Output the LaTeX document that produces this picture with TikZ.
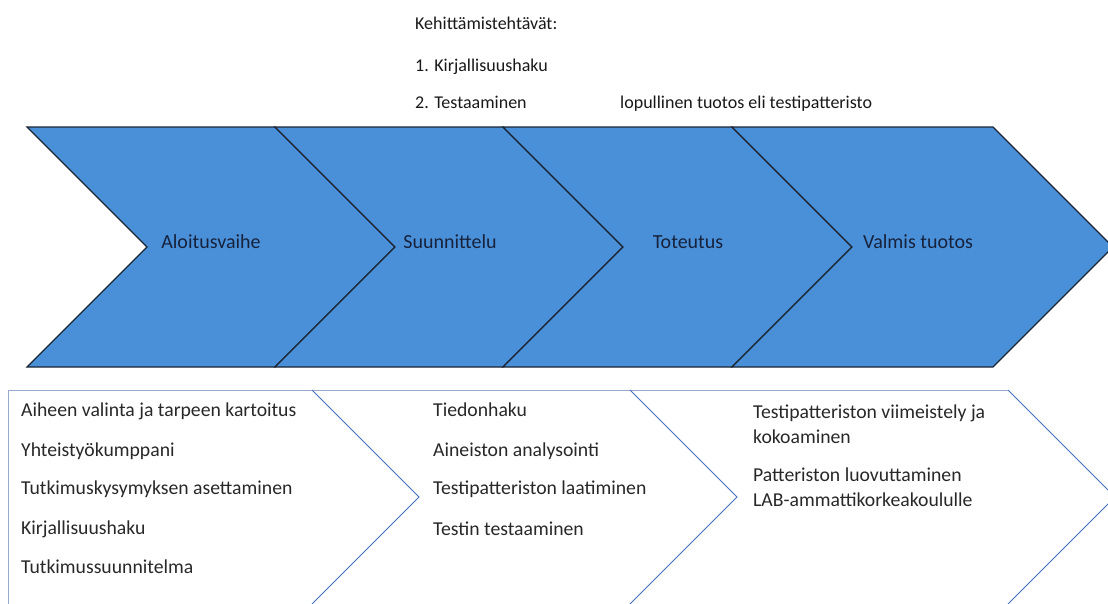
\documentclass[tikz,border=0pt]{standalone}
\usepackage{fontspec}
\setmainfont{Carlito}
\definecolor{chevblue}{RGB}{74,144,217}
\definecolor{chevedge}{RGB}{28,38,52}
\definecolor{labelnavy}{RGB}{22,34,60}
\definecolor{outlineblue}{RGB}{72,112,192}
\definecolor{outlinelight}{RGB}{150,170,205}
\definecolor{bodytext}{RGB}{40,40,40}
\definecolor{toptextcol}{RGB}{25,25,25}
\tikzset{
  chevron/.style={fill=chevblue, draw=chevedge, line width=1.2pt, line join=miter},
  outline/.style={draw=outlineblue, line width=1pt},
  outlinepale/.style={draw=outlinelight, line width=1pt},
  chevlabel/.style={anchor=base, inner sep=0pt, text=labelnavy, font=\fontsize{20}{23}\selectfont},
  toptext/.style={anchor=base west, inner sep=0pt, text=toptextcol, font=\fontsize{18}{21}\selectfont},
  bottomtext/.style={anchor=base west, inner sep=0pt, text=bodytext, font=\fontsize{19.7}{24}\selectfont}
}
\begin{document}
\begin{tikzpicture}[x=1pt,y=-1pt]
\useasboundingbox (0,0) rectangle (1108,603);
\fill[white] (0,0) rectangle (1108,603);
\begin{scope}
\clip (0,0) rectangle (1108,603);
% top chevrons
\draw[chevron] (27,127) -- (275,127) -- (395,247) -- (275,367) -- (27,367) -- (147,247) -- cycle;
\draw[chevron] (275,127) -- (503,127) -- (623,247) -- (503,367) -- (275,367) -- (395,247) -- cycle;
\draw[chevron] (503,127) -- (732,127) -- (852,247) -- (732,367) -- (503,367) -- (623,247) -- cycle;
\draw[chevron] (732,127) -- (993,127) -- (1113,247) -- (993,367) -- (732,367) -- (852,247) -- cycle;
% bottom outline chevrons
\draw[outlinepale] (8,606) -- (8,390) -- (1008,390);
\draw[outline] (312,390) -- (419,497) -- (312,604);
\draw[outline] (630,390) -- (737,497) -- (630,604);
\draw[outline] (1008,390) -- (1115,497) -- (1008,604);
\end{scope}
% chevron labels
\node[chevlabel] (aloitus) at (211,248) {Aloitusvaihe};
\node[chevlabel] (suunn) at (450,248) {Suunnittelu};
\node[chevlabel] (toteutus) at (688,248) {Toteutus};
\node[chevlabel] (valmis) at (918,248) {Valmis tuotos};
% top texts
\node[toptext] (keh) at (415,29) {Kehittämistehtävät:};
\node[toptext] (k1) at (415,71) {1. Kirjallisuushaku};
\node[toptext] (k2) at (415,108) {2. Testaaminen};
\node[toptext] (lop) at (620,108) {lopullinen tuotos eli testipatteristo};
% left column
\node[bottomtext] (l1) at (21,416) {Aiheen valinta ja tarpeen kartoitus};
\node[bottomtext] (l2) at (21,456) {Yhteistyökumppani};
\node[bottomtext] (l3) at (21,494) {Tutkimuskysymyksen asettaminen};
\node[bottomtext] (l4) at (21,534) {Kirjallisuushaku};
\node[bottomtext] (l5) at (21,573) {Tutkimussuunnitelma};
% middle column
\node[bottomtext] (m1) at (433,416) {Tiedonhaku};
\node[bottomtext] (m2) at (433,456) {Aineiston analysointi};
\node[bottomtext] (m3) at (433,494) {Testipatteriston laatiminen};
\node[bottomtext] (m4) at (433,535) {Testin testaaminen};
% right column
\node[bottomtext] (r1) at (753,418) {Testipatteriston viimeistely ja};
\node[bottomtext] (r2) at (753,443) {kokoaminen};
\node[bottomtext] (r3) at (753,481) {Patteriston luovuttaminen};
\node[bottomtext] (r4) at (753,506) {LAB-ammattikorkeakoululle};
\end{tikzpicture}
\end{document}
